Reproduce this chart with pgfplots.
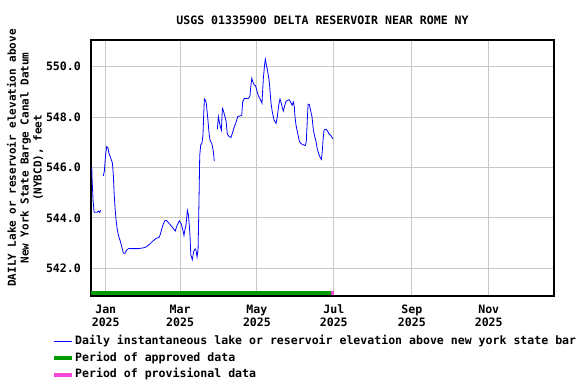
\documentclass[border=0pt]{standalone}
\usepackage{fontspec}
\setmainfont{DejaVu Sans Mono}
\usepackage{pgfplots}
\pgfplotsset{compat=1.18}
\definecolor{usgsgreen}{RGB}{0,155,0}
\definecolor{usgsmag}{RGB}{245,70,220}
\definecolor{gridgray}{RGB}{200,200,200}
\newcommand\ff{\fontsize{11.6}{12.7}\selectfont\bfseries}
\begin{document}
\begin{tikzpicture}
\path[use as bounding box] (-91bp,-88bp) rectangle (485bp,296bp);
\begin{axis}[
  scale only axis, width=463bp, height=256bp,
  at={(0,0)}, anchor=south west,
  xmin=-11.7, xmax=355.8, ymin=540.9, ymax=551.06,
  xtick={0,59,120,181,243,304},
  xticklabels={{Jan\\2025},{Mar\\2025},{May\\2025},{Jul\\2025},{Sep\\2025},{Nov\\2025}},
  xticklabel style={align=center, font=\ff, inner sep=0pt, yshift=-9bp},
  ytick={542,544,546,548,550},
  yticklabels={542.0,544.0,546.0,548.0,550.0},
  yticklabel style={font=\ff, inner sep=0pt, xshift=-10bp},
  /pgf/number format/assume math mode=true,
  major tick length=0pt,
  grid=major, grid style={gridgray, line width=0.9bp},
  axis line style={line width=1.1bp},
  title={USGS 01335900 DELTA RESERVOIR NEAR ROME NY},
  title style={font=\ff, at={(axis description cs:0.5,1)}, anchor=center, yshift=14bp},
  ylabel={DAILY Lake or reservoir elevation above\\New York State Barge Canal Datum\\(NYBCD), feet},
  ylabel style={font=\fontsize{11}{13}\selectfont\bfseries, align=center, at={(axis description cs:-0.1425,0.539)}, anchor=center},
  legend style={at={(axis description cs:-0.0842,-0.151)}, anchor=north west, draw=none, fill=none, inner sep=0pt, font=\ff, row sep=2.4bp, nodes={inner sep=1bp, text height=9bp, text depth=3bp}},
  legend cell align=left,
  legend image code/.code={\draw[#1] (0bp,0bp) -- (18bp,0bp);},
  unbounded coords=jump,
  clip=false,
]
\addplot[blue, line width=0.8bp] coordinates {
(-11.1,546.0) (-10.8,545.5) (-10.0,544.64) (-9.2,544.22) (-7,544.22) (-5.6,544.27) (-5,544.22) (-4,544.3)
(-3,nan)
(-1.9,545.67) (-1.1,545.86) (0,546.56) (0.8,546.83) (1.8,546.77) (2.6,546.56) (4,546.37) (5.3,546.17) (6,545.73) (6.6,545.04) (7.4,544.38) (8.2,543.92) (9,543.59) (10,543.32) (11.3,543.12) (12.7,542.86) (14,542.6) (15.3,542.6) (16.7,542.73) (18.5,542.79) (20.6,542.78) (25.1,542.78) (28.6,542.8) (30.7,542.82) (32.5,542.86) (35.2,542.97) (37.8,543.1) (40.5,543.2) (42.3,543.22) (43.4,543.36) (44.4,543.55) (45.7,543.76) (47.1,543.9) (48.4,543.89) (51,543.74) (53.2,543.61) (55.2,543.48) (56.6,543.7) (58.4,543.88) (59.8,543.77) (61.1,543.55) (62.1,543.3) (62.9,543.55) (63.7,543.7) (64.8,544.3) (65.6,544.12) (66.4,543.66) (66.9,543.27) (67.5,542.54) (68.3,542.41) (68.7,542.34) (69.8,542.67) (70.9,542.77) (71.6,542.73) (72.5,542.45) (73.3,542.77) (74,544.6) (74.6,546.47) (75.4,546.9) (76.4,546.97) (77.2,547.3) (77.8,548.15) (78.3,548.72) (79,548.68) (79.8,548.55) (81,547.95) (82,547.36) (82.8,547.07) (84.1,546.97) (85.2,546.7) (86.2,546.25)
(87.4,nan)
(88.6,547.52) (89.4,548.02) (90.2,547.8) (91,547.62) (91.8,547.48) (92.6,548.35) (93.4,548.26) (94.4,548.06) (95.5,547.85) (96.5,547.32) (97.9,547.23) (99.4,547.19) (100.5,547.36) (102.1,547.62) (103.4,547.79) (104.8,548.02) (106.6,548.05) (107.9,548.05) (108.7,548.61) (110,548.74) (113.2,548.74) (114.5,548.84) (115,549.14) (115.9,549.54) (116.7,549.41) (117.9,549.27) (118.9,549.25) (119.8,549.08) (121.1,548.85) (122.5,548.72) (124,548.55) (125.1,549.54) (126.2,550.13) (126.7,550.3) (127.5,550.07) (128.6,549.8) (129.8,549.41) (131.2,548.55) (132.2,548.21) (133.6,547.88) (135.2,547.75) (136.2,548.02) (137.3,548.47) (138.3,548.72) (139.2,548.57) (140.2,548.37) (141,548.24) (142.1,548.47) (143.1,548.63) (145.5,548.69) (146.8,548.6) (147.9,548.47) (148.9,548.6) (149.7,548.4) (150.2,548.02) (151,547.69) (151.8,547.49) (152.9,547.23) (153.7,547.04) (155,546.95) (156.8,546.9) (158.4,546.87) (159.2,547.04) (159.8,547.69) (160.6,548.51) (161.6,548.51) (162.7,548.24) (163.7,548.02) (164.8,547.49) (165.9,547.23) (166.9,547.04) (168,546.71) (169.1,546.54) (170.1,546.41) (171.2,546.32) (172,546.71) (172.5,547.1) (173.3,547.49) (174.8,547.52) (175.9,547.46) (177,547.35) (178.6,547.27) (180.2,547.14)
};
\addlegendentry{Daily instantaneous lake or reservoir elevation above new york state barge canal datum}
\addplot[usgsgreen, line width=4bp] coordinates {(-11.7,541.02) (178.5,541.02)};
\addlegendentry{Period of approved data}
\addplot[usgsmag, line width=4bp] coordinates {(178.5,541.02) (181,541.02)};
\addlegendentry{Period of provisional data}
\end{axis}
\end{tikzpicture}
\end{document}
